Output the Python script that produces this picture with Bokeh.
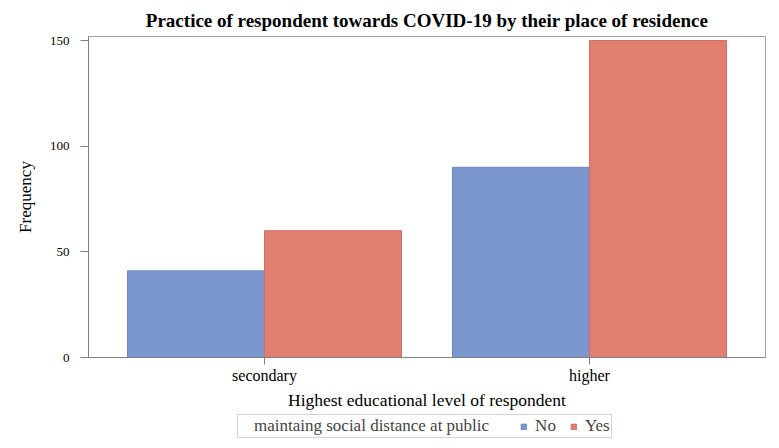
from bokeh.plotting import figure
from bokeh.layouts import column
from bokeh.models import FactorRange, Range1d, Legend, LegendItem, FixedTicker, ColumnDataSource
from bokeh.transform import dodge
from bokeh.embed import file_html
from bokeh.resources import INLINE

categories = ["secondary", "higher"]
series = ["No", "Yes"]
no_values = [41, 90]
yes_values = [60, 150]
y_ticks = [0, 50, 100, 150]
legend_title = "maintaing social distance at public"

FONT = "Liberation Serif"
BLUE = "#7C97CF"
RED = "#E07E70"
BLUE_EDGE = "#6E88C0"
RED_EDGE = "#CF6F66"

src = ColumnDataSource(dict(cat=categories, no=no_values, yes=yes_values))

x_range = FactorRange(factors=categories, range_padding=0.0415)
p = figure(width=779, height=412, x_range=x_range, y_range=Range1d(0, 151.9),
           output_backend="svg", toolbar_location=None,
           min_border_left=88, min_border_right=14, min_border_top=36, min_border_bottom=54,
           title="Practice of respondent towards COVID-19 by their place of residence")

p.vbar(x=dodge("cat", -0.2108, range=x_range), top="no", width=0.4215, source=src,
       fill_color=BLUE, line_color=BLUE_EDGE, line_width=1)
p.vbar(x=dodge("cat", 0.2108, range=x_range), top="yes", width=0.4215, source=src,
       fill_color=RED, line_color=RED_EDGE, line_width=1)

p.title.text_font = FONT
p.title.text_font_size = "19px"
p.title.text_font_style = "bold"
p.title.align = "center"
p.title.text_color = "black"
p.title.standoff = 11

p.xgrid.visible = False
p.ygrid.visible = False
p.outline_line_color = "#A0A0A0"
p.outline_line_width = 1

for ax in (p.xaxis[0], p.yaxis[0]):
    ax.axis_line_color = "#808080"
    ax.major_tick_line_color = "#808080"
    ax.minor_tick_line_color = None
    ax.major_tick_in = 0
    ax.major_label_text_font = FONT
    ax.major_label_text_color = "black"
    ax.axis_label_text_font = FONT
    ax.axis_label_text_font_style = "normal"
    ax.axis_label_text_color = "black"

p.yaxis.ticker = FixedTicker(ticks=y_ticks)
p.yaxis.major_tick_out = 8
p.yaxis.major_label_standoff = 11
p.yaxis.major_label_text_font_size = "13px"
p.yaxis.axis_label = "Frequency"
p.yaxis.axis_label_text_font_size = "17px"
p.yaxis.axis_label_standoff = 12

p.xaxis.major_tick_out = 7
p.xaxis.major_label_standoff = 2
p.xaxis.major_label_text_font_size = "16px"
p.xaxis.axis_label = "Highest educational level of respondent"
p.xaxis.axis_label_text_font_size = "17.5px"
p.xaxis.axis_label_standoff = 3

# legend strip below the chart; its renderers share the chart's data but sit outside its view
lg = figure(width=779, height=36, x_range=x_range, y_range=Range1d(1000, 1001),
            x_axis_type=None, y_axis_type=None, output_backend="svg", toolbar_location=None,
            min_border_left=0, min_border_right=0, min_border_top=0, min_border_bottom=0)
lg.outline_line_color = None
lg.xgrid.visible = False
lg.ygrid.visible = False
r_title = lg.vbar(x="cat", top="no", width=0.1, source=src, fill_alpha=0, line_alpha=0)
r_no = lg.vbar(x="cat", top="no", width=0.1, source=src, fill_color=BLUE, line_color=BLUE_EDGE)
r_yes = lg.vbar(x="cat", top="yes", width=0.1, source=src, fill_color=RED, line_color=RED_EDGE)

items = [LegendItem(label=legend_title + "\u00a0\u00a0\u00a0\u00a0", renderers=[r_title]),
         LegendItem(label=series[0], renderers=[r_no]),
         LegendItem(label=series[1], renderers=[r_yes])]
legend = Legend(items=items, orientation="horizontal", location=(149, 10))
legend.label_text_font = FONT
legend.label_text_font_size = "17px"
legend.glyph_width = 7
legend.glyph_height = 7
legend.label_standoff = 8
legend.spacing = 14
legend.padding = 1
legend.margin = 0
legend.label_height = 14
legend.border_line_color = "#A8A8A8"
legend.border_line_width = 1
lg.add_layout(legend, "center")

layout = column(p, lg, spacing=0)
open("out.html", "w").write(file_html(layout, INLINE))
